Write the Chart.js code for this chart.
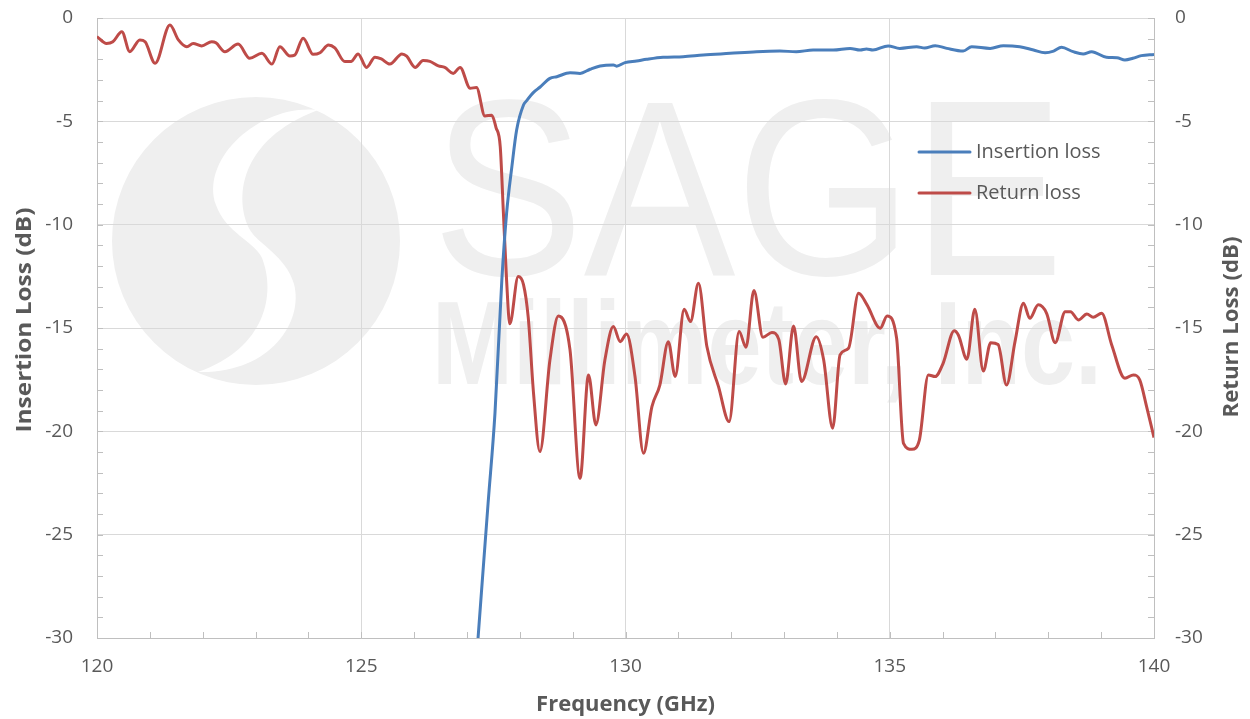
<!DOCTYPE html>
<html>
<head>
<meta charset="utf-8">
<title>Insertion / Return loss</title>
<script src="https://cdn.jsdelivr.net/npm/chart.js@4.4.1/dist/chart.umd.min.js"></script>
<style>
  html, body { margin: 0; padding: 0; background: #fff; }
  #wrap { position: relative; width: 1250px; height: 719px; }
</style>
</head>
<body>
<div id="wrap"><canvas id="lossChart"></canvas></div>
<script>
// Insertion loss (blue) - frequency in GHz, loss in dB
const ilFreq = [127.21, 127.40, 127.53, 127.66, 127.75, 127.85, 127.94, 128.07, 128.13, 128.26, 128.38,
  128.57, 128.70, 128.95, 129.14, 129.33, 129.52, 129.77, 129.83, 129.99, 130.21, 130.40, 130.71,
  131.09, 131.47, 131.98, 132.48, 132.92, 133.23, 133.55, 133.93, 134.25, 134.44, 134.56, 134.68,
  134.97, 135.19, 135.51, 135.66, 135.86, 136.08, 136.39, 136.55, 136.90, 137.15, 137.46, 137.72,
  137.94, 138.10, 138.25, 138.47, 138.66, 138.82, 139.10, 139.30, 139.45, 139.60, 139.76, 140.00];
const ilValues = [-30, -23.48, -19.13, -12.68, -9.45, -7.19, -5.42, -4.21, -4.0, -3.6, -3.35,
  -2.92, -2.84, -2.65, -2.68, -2.48, -2.32, -2.27, -2.33, -2.16, -2.08, -2.00, -1.90,
  -1.87, -1.79, -1.71, -1.63, -1.60, -1.63, -1.55, -1.55, -1.47, -1.55, -1.50, -1.55,
  -1.35, -1.47, -1.39, -1.45, -1.34, -1.47, -1.60, -1.39, -1.47, -1.34, -1.39, -1.55,
  -1.68, -1.60, -1.42, -1.63, -1.74, -1.63, -1.90, -1.92, -2.03, -1.95, -1.82, -1.76];

// Return loss (red)
const rlFreq = [120.00, 120.18, 120.30, 120.47, 120.62, 120.81, 120.91, 121.10, 121.38, 121.54, 121.70,
  121.82, 121.98, 122.17, 122.25, 122.42, 122.67, 122.89, 123.12, 123.31, 123.46, 123.65, 123.74,
  123.90, 124.09, 124.22, 124.38, 124.50, 124.69, 124.81, 124.94, 125.10, 125.26, 125.38, 125.54,
  125.77, 125.86, 126.02, 126.17, 126.30, 126.46, 126.58, 126.74, 126.87, 127.06, 127.18, 127.34,
  127.47, 127.55, 127.63, 127.69, 127.75, 127.81, 127.97, 128.07, 128.16, 128.26, 128.38, 128.57,
  128.73, 128.95, 129.14, 129.30, 129.44, 129.61, 129.77, 129.90, 130.02, 130.18, 130.34, 130.50,
  130.65, 130.81, 130.94, 131.11, 131.23, 131.38, 131.54, 131.76, 131.96, 132.15, 132.28, 132.43,
  132.60, 132.77, 132.90, 133.03, 133.18, 133.33, 133.61, 133.75, 133.92, 134.06, 134.22, 134.41,
  134.57, 134.82, 134.95, 135.13, 135.26, 135.42, 135.56, 135.73, 135.86, 136.01, 136.22, 136.30,
  136.46, 136.61, 136.77, 136.91, 137.05, 137.21, 137.37, 137.53, 137.65, 137.81, 137.97, 138.13,
  138.32, 138.42, 138.57, 138.73, 138.85, 139.01, 139.20, 139.45, 139.61, 139.73, 139.86, 140.00];
const rlValues = [-0.90, -1.23, -1.15, -0.66, -1.63, -1.06, -1.15, -2.19, -0.34, -1.06, -1.39,
  -1.23, -1.35, -1.15, -1.20, -1.63, -1.26, -1.95, -1.71, -2.23, -1.39, -1.84, -1.80,
  -0.98, -1.76, -1.68, -1.31, -1.45, -2.11, -2.10, -1.74, -2.39, -1.90, -1.98, -2.23,
  -1.74, -1.85, -2.39, -2.06, -2.10, -2.32, -2.39, -2.68, -2.39, -3.40, -3.36, -4.74,
  -4.70, -5.3, -6.23, -9.45, -12.68, -14.8, -12.51, -12.9, -14.5, -18.16, -20.98, -16.55,
  -14.42, -16.06, -22.27, -17.27, -19.69, -16.55, -14.93, -15.66, -15.29, -17.35, -21.06, -18.80,
  -17.76, -15.66, -17.35, -14.09, -14.69, -12.84, -15.90, -17.84, -19.53, -15.17, -15.93, -13.19,
  -15.45, -15.22, -15.55, -17.71, -14.90, -17.59, -15.42, -16.55, -19.85, -16.30, -15.98, -13.32,
  -13.88, -15.01, -14.42, -15.50, -20.58, -20.87, -20.42, -17.27, -17.35, -16.71, -15.13, -15.35,
  -16.51, -14.09, -17.08, -15.71, -15.80, -17.76, -15.66, -13.80, -14.53, -13.88, -14.30, -15.71,
  -14.21, -14.21, -14.61, -14.32, -14.48, -14.29, -15.82, -17.43, -17.27, -17.51, -18.80, -20.30];

const xTicks = [120, 125, 130, 135, 140];
const yTicks = [0, -5, -10, -15, -20, -25, -30];

const FONT = "'Open Sans', 'Noto Sans', sans-serif";
const TEXT = "#595959";

function toPoints(xs, ys) {
  return xs.map((x, i) => ({ x: x, y: ys[i] }));
}

// faint company watermark behind the plot
const watermark = {
  id: "watermark",
  beforeDraw(chart) {
    const ctx = chart.ctx;
    ctx.save();
    ctx.fillStyle = "#efefef";
    ctx.beginPath();
    ctx.arc(256, 241, 144, 0, Math.PI * 2);
    ctx.fill();
    // white S through the circle
    ctx.fillStyle = "#ffffff";
    ctx.beginPath();
    ctx.moveTo(318, 110);
    ctx.bezierCurveTo(258, 104, 200, 160, 216, 205);
    ctx.bezierCurveTo(225, 232, 255, 242, 262, 258);
    ctx.bezierCurveTo(276, 294, 266, 348, 198, 372);
    ctx.bezierCurveTo(270, 374, 304, 322, 294, 284);
    ctx.bezierCurveTo(286, 256, 258, 244, 250, 230);
    ctx.bezierCurveTo(234, 200, 238, 140, 318, 110);
    ctx.closePath();
    ctx.fill();

    ctx.fillStyle = "#efefef";
    ctx.textBaseline = "alphabetic";
    ctx.font = "251px 'Liberation Sans', sans-serif";
    let w = ctx.measureText("SAGE").width;
    ctx.save();
    ctx.translate(432, 275);
    ctx.scale(632 / w, 1);
    ctx.fillText("SAGE", 0, 0);
    ctx.restore();

    ctx.font = "bold 119px 'Liberation Sans', sans-serif";
    w = ctx.measureText("Millimeter, Inc.").width;
    ctx.save();
    ctx.translate(432, 384);
    ctx.scale(670 / w, 1);
    ctx.fillText("Millimeter, Inc.", 0, 0);
    ctx.restore();
    ctx.restore();
  }
};

// minor ticks every 1 GHz / 1 dB, pointing into the plot
const minorTicks = {
  id: "minorTicks",
  beforeDatasetsDraw(chart) {
    const { ctx, chartArea, scales } = chart;
    ctx.save();
    ctx.strokeStyle = "#bfbfbf";
    ctx.lineWidth = 1;
    ctx.beginPath();
    for (let f = scales.x.min; f <= scales.x.max; f += 1) {
      const px = Math.round(scales.x.getPixelForValue(f)) + 0.5;
      ctx.moveTo(px, chartArea.bottom);
      ctx.lineTo(px, chartArea.bottom - 6);
    }
    for (let v = scales.y.min; v <= scales.y.max; v += 1) {
      const py = Math.round(scales.y.getPixelForValue(v)) + 0.5;
      ctx.moveTo(chartArea.left, py);
      ctx.lineTo(chartArea.left + 6, py);
      ctx.moveTo(chartArea.right, py);
      ctx.lineTo(chartArea.right - 6, py);
    }
    ctx.stroke();
    ctx.restore();
  }
};

// vertical axis title, read bottom to top, stretched to a given length
function verticalTitle(ctx, text, cx, cy, len) {
  ctx.save();
  ctx.font = "bold 21px " + FONT;
  ctx.fillStyle = TEXT;
  ctx.textAlign = "center";
  ctx.textBaseline = "middle";
  const w = ctx.measureText(text).width;
  ctx.translate(cx, cy);
  ctx.rotate(-Math.PI / 2);
  ctx.scale(len / w, 1);
  ctx.fillText(text, 0, 0);
  ctx.restore();
}

// legend inside the plot + both y axis titles
const extras = {
  id: "extras",
  afterDraw(chart) {
    const ctx = chart.ctx;
    ctx.save();
    ctx.font = "20px " + FONT;
    ctx.textBaseline = "middle";
    chart.data.datasets.forEach((ds, i) => {
      const y = 152 + i * 41;
      ctx.strokeStyle = ds.borderColor;
      ctx.lineWidth = 3;
      ctx.lineCap = "round";
      ctx.beginPath();
      ctx.moveTo(919, y);
      ctx.lineTo(970, y);
      ctx.stroke();
      ctx.fillStyle = TEXT;
      ctx.fillText(ds.label, 976, y);
    });
    ctx.restore();

    verticalTitle(ctx, "Insertion Loss (dB)", 25, 320, 225);
    verticalTitle(ctx, "Return Loss (dB)", 1232, 327, 181);
  }
};

// keep the plot box where the reference has it
function fixY(width) {
  return (s) => { s.width = width; s.paddingTop = 0; s.paddingBottom = 0; };
}

document.addEventListener("DOMContentLoaded", () => {
  const ctx = document.getElementById("lossChart").getContext("2d");
  new Chart(ctx, {
    type: "line",
    data: {
      datasets: [
        {
          label: "Insertion loss",
          data: toPoints(ilFreq, ilValues),
          borderColor: "#4a7ebb",
          borderWidth: 3,
          pointRadius: 0,
          cubicInterpolationMode: "monotone",
        },
        {
          label: "Return loss",
          data: toPoints(rlFreq, rlValues),
          borderColor: "#be4b48",
          borderWidth: 3,
          pointRadius: 0,
          cubicInterpolationMode: "monotone",
        },
      ],
    },
    options: {
      responsive: true,
      maintainAspectRatio: false,
      animation: false,
      layout: { padding: { top: 18, left: 0, right: 0, bottom: 0 } },
      plugins: { legend: { display: false }, tooltip: { enabled: false } },
      scales: {
        x: {
          type: "linear",
          min: 120,
          max: 140,
          afterBuildTicks: (s) => { s.ticks = xTicks.map((v) => ({ value: v })); },
          afterFit: (s) => { s.height = 81; s.paddingLeft = 0; s.paddingRight = 0; },
          ticks: { color: TEXT, font: { size: 19, family: FONT }, padding: 17 },
          grid: { color: "#d9d9d9", drawTicks: false },
          border: { color: "#bfbfbf" },
          title: {
            display: true,
            text: "Frequency (GHz)",
            color: TEXT,
            font: { size: 22, weight: "bold", family: FONT },
            padding: { top: 0, bottom: 1 },
          },
        },
        y: {
          type: "linear",
          position: "left",
          min: -30,
          max: 0,
          afterBuildTicks: (s) => { s.ticks = yTicks.map((v) => ({ value: v })); },
          afterFit: fixY(97),
          ticks: { color: TEXT, font: { size: 19, family: FONT }, padding: 24 },
          grid: { color: "#d9d9d9", drawTicks: false },
          border: { color: "#bfbfbf" },
        },
        y2: {
          type: "linear",
          position: "right",
          min: -30,
          max: 0,
          afterBuildTicks: (s) => { s.ticks = yTicks.map((v) => ({ value: v })); },
          afterFit: fixY(96),
          ticks: { color: TEXT, font: { size: 19, family: FONT }, padding: 21 },
          grid: { drawOnChartArea: false, drawTicks: false },
          border: { color: "#bfbfbf" },
        },
      },
    },
    plugins: [watermark, minorTicks, extras],
  });
});
</script>
</body>
</html>
